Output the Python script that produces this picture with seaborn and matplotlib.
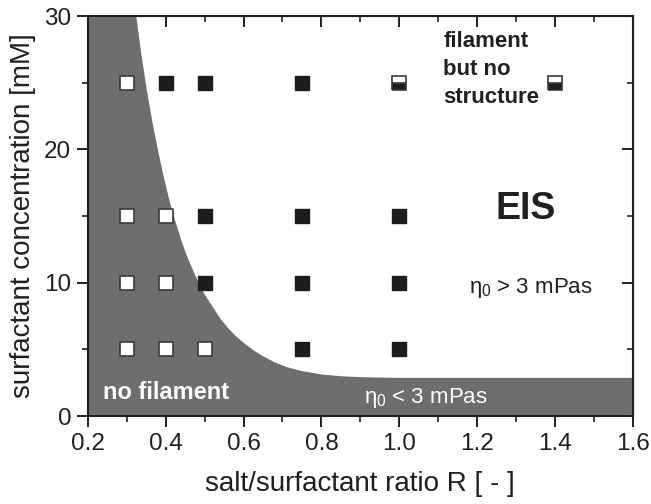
import numpy as np
import pandas as pd
import matplotlib
matplotlib.use("Agg")
import matplotlib.pyplot as plt
import seaborn as sns
from matplotlib.ticker import MultipleLocator

# ---- data ----
open_R = [0.3, 0.3, 0.4, 0.3, 0.4, 0.3, 0.4, 0.5]
open_C = [25, 15, 15, 10, 10, 5, 5, 5]
filled_R = [0.4, 0.5, 0.75, 0.5, 0.75, 1.0, 0.5, 0.75, 1.0, 0.75, 1.0]
filled_C = [25, 25, 25, 15, 15, 15, 10, 10, 10, 5, 5]
half_R = [1.0, 1.4]
half_C = [25, 25]
boundary_R = [0.2, 0.323, 0.335, 0.350, 0.365, 0.380, 0.395, 0.410, 0.425, 0.440,
              0.455, 0.470, 0.485, 0.500, 0.520, 0.540, 0.560, 0.580, 0.600, 0.625,
              0.650, 0.680, 0.710, 0.750, 0.800, 0.850, 0.900, 0.950, 1.000, 1.600]
boundary_C = [30, 30, 27.4, 24.5, 22.0, 19.8, 17.8, 16.0, 14.5, 13.1,
              11.9, 10.9, 9.9, 9.1, 8.2, 7.3, 6.6, 6.0, 5.5, 4.95,
              4.5, 4.05, 3.7, 3.4, 3.15, 3.02, 2.95, 2.92, 2.9, 2.9]
x_ticks = [0.2, 0.4, 0.6, 0.8, 1.0, 1.2, 1.4, 1.6]
y_ticks = [0, 10, 20, 30]

sns.set_style("ticks")
plt.rcParams['font.family'] = ['Liberation Sans', 'DejaVu Sans']
plt.rcParams['mathtext.fontset'] = 'custom'
plt.rcParams['mathtext.rm'] = 'Liberation Sans'
plt.rcParams['mathtext.it'] = 'Liberation Sans'

TXT = '#231f20'
fig = plt.figure(figsize=(6.51, 5.04), dpi=100)
ax = fig.add_axes([0.135, 0.1746, 0.837, 0.7936])

ax.fill_between(boundary_R, 0, boundary_C, color='#6e6e6e', linewidth=0, zorder=1)

df_open = pd.DataFrame({'R': open_R, 'C': open_C})
df_filled = pd.DataFrame({'R': filled_R, 'C': filled_C})
sns.scatterplot(data=df_open, x='R', y='C', marker='s', s=115, color='white',
                edgecolor='#3a3a3a', linewidth=1.2, ax=ax, zorder=3)
sns.scatterplot(data=df_filled, x='R', y='C', marker='s', s=115, color='#1e1c1d',
                edgecolor='#1e1c1d', linewidth=1.0, ax=ax, zorder=3)
ax.plot(half_R, half_C, linestyle='none', marker='s', markersize=9.8,
        fillstyle='bottom', markerfacecolor='#1e1c1d', markerfacecoloralt='white',
        markeredgecolor='#3a3a3a', markeredgewidth=1.2, zorder=3)

ax.set_xlim(0.2, 1.6)
ax.set_ylim(0, 30)
ax.set_xticks(x_ticks)
ax.set_xticklabels([f"{v:.1f}" for v in x_ticks])
ax.set_yticks(y_ticks)
ax.xaxis.set_minor_locator(MultipleLocator(0.1))
ax.yaxis.set_minor_locator(MultipleLocator(5))
ax.tick_params(which='major', direction='out', length=8, width=1.4, labelsize=17.5,
               colors=TXT, pad=4)
ax.tick_params(which='minor', direction='out', length=4.5, width=1.2, colors=TXT)
for sp in ax.spines.values():
    sp.set_visible(True)
    sp.set_linewidth(1.5)
    sp.set_color(TXT)

secx = ax.secondary_xaxis('top')
secx.set_xticks(x_ticks)
secx.xaxis.set_minor_locator(MultipleLocator(0.1))
secx.tick_params(which='major', direction='in', length=8, width=1.4, labeltop=False, colors=TXT)
secx.tick_params(which='minor', direction='in', length=4.5, width=1.2, colors=TXT)
secx.set_xticklabels([])
secy = ax.secondary_yaxis('right')
secy.set_yticks(y_ticks)
secy.yaxis.set_minor_locator(MultipleLocator(5))
secy.tick_params(which='major', direction='in', length=8, width=1.4, labelright=False, colors=TXT)
secy.tick_params(which='minor', direction='in', length=4.5, width=1.2, colors=TXT)
secy.set_yticklabels([])

ax.set_xlabel('salt/surfactant ratio R [ - ]', fontsize=20, color=TXT, labelpad=12)
ax.set_ylabel('surfactant concentration [mM]', fontsize=20, color=TXT, labelpad=6)

ax.text(1.113, 26.0, 'filament\nbut no\nstructure', ha='left', va='center',
        fontsize=16, fontweight='bold', color=TXT, linespacing=1.45, zorder=4)
ax.text(1.326, 15.5, 'EIS', ha='center', va='center', fontsize=27,
        fontweight='bold', color=TXT, zorder=4)
ax.text(1.339, 9.6, r'$\eta_0$ > 3 mPas', ha='center', va='center',
        fontsize=16, color=TXT, zorder=4)
ax.text(1.069, 1.35, r'$\eta_0$ < 3 mPas', ha='center', va='center',
        fontsize=16, color='white', zorder=4)
ax.text(0.239, 1.8, 'no filament', ha='left', va='center', fontsize=17,
        fontweight='bold', color='white', zorder=4)

fig.savefig('out.png', dpi=100)
